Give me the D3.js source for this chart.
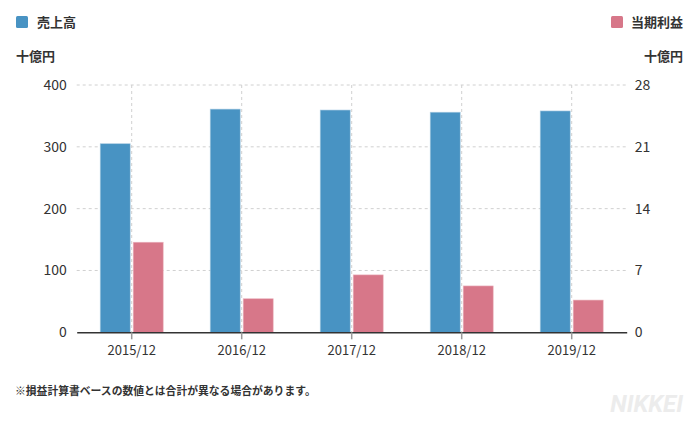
<!DOCTYPE html>
<html><head><meta charset="utf-8">
<script src="https://cdn.jsdelivr.net/npm/d3@7"></script>
<style>
body{margin:0;background:#fff;}
text{font-family:"Noto Sans CJK JP","Noto Sans",sans-serif;}
</style></head>
<body><svg id="c" width="691" height="426"></svg>
<script>
const categories = ["2015/12","2016/12","2017/12","2018/12","2019/12"];
const sales = [305, 361, 359.5, 356, 358];
const profit = [10.2, 3.8, 6.5, 5.25, 3.65];
const leftTicks = [0,100,200,300,400];
const rightTicks = [0,7,14,21,28];
const seriesNames = ["売上高","当期利益"];
const unitLabel = "十億円";
const footnote = "※損益計算書ベースの数値とは合計が異なる場合があります。";

const blue = "#4893c3", pink = "#d77789";
const svg = d3.select("#c");
const m = {l:76.7, r:626.7, t:85, b:332.3};
const x = d3.scaleBand().domain(categories).range([m.l, m.r]);
const yL = d3.scaleLinear().domain([0,400]).range([m.b, m.t]);
const yR = d3.scaleLinear().domain([0,28]).range([m.b, m.t]);

// horizontal grid
svg.append("g").selectAll("line").data(leftTicks.filter(d=>d>0)).join("line")
  .attr("x1", m.l).attr("x2", m.r).attr("y1", d=>yL(d)).attr("y2", d=>yL(d))
  .attr("stroke","#d0d0d0").attr("stroke-dasharray","3,3");
// vertical grid
svg.append("g").selectAll("line").data(categories).join("line")
  .attr("x1", d=>x(d)+x.bandwidth()/2).attr("x2", d=>x(d)+x.bandwidth()/2)
  .attr("y1", m.t).attr("y2", m.b)
  .attr("stroke","#d0d0d0").attr("stroke-dasharray","3,3");

const bw = 30, gap = 1.5;
svg.append("g").selectAll("rect").data(categories).join("rect")
  .attr("x", d=>x(d)+x.bandwidth()/2-gap-bw).attr("width", bw)
  .attr("y", (d,i)=>yL(sales[i])).attr("height", (d,i)=>yL(0)-yL(sales[i]))
  .attr("fill", blue).attr("stroke","#a9cbe2").attr("stroke-width",0.6);
svg.append("g").selectAll("rect").data(categories).join("rect")
  .attr("x", d=>x(d)+x.bandwidth()/2+gap).attr("width", bw)
  .attr("y", (d,i)=>yR(profit[i])).attr("height", (d,i)=>yR(0)-yR(profit[i]))
  .attr("fill", pink).attr("stroke","#ebb6c0").attr("stroke-width",0.6);

// x axis
const xa = svg.append("g").attr("transform",`translate(0,${m.b})`)
  .call(d3.axisBottom(x).tickSize(7).tickSizeOuter(0).tickPadding(6));
xa.select(".domain").attr("stroke","#333").attr("stroke-width",1.5);
xa.selectAll(".tick line").attr("stroke","#999").attr("stroke-width",1.5);
xa.selectAll("text").attr("font-size",13).attr("fill","#333");

// left axis
const la = svg.append("g").attr("transform",`translate(${m.l},0)`)
  .call(d3.axisLeft(yL).tickValues(leftTicks).tickSize(0).tickPadding(10));
la.select(".domain").remove();
la.selectAll("text").attr("font-size",14).attr("fill","#333");
const ra = svg.append("g").attr("transform",`translate(${m.r},0)`)
  .call(d3.axisRight(yR).tickValues(rightTicks).tickSize(0).tickPadding(8));
ra.select(".domain").remove();
ra.selectAll("text").attr("font-size",14).attr("fill","#333");

// legend
svg.append("rect").attr("x",16).attr("y",16).attr("width",12).attr("height",12).attr("rx",1.5).attr("fill",blue);
svg.append("text").attr("x",37).attr("y",27).attr("font-size",13).attr("font-weight","bold").attr("fill","#333").text(seriesNames[0]);
svg.append("text").attr("x",683).attr("y",27).attr("text-anchor","end").attr("font-size",13).attr("font-weight","bold").attr("fill","#333").text(seriesNames[1]);
svg.append("rect").attr("x",611).attr("y",16).attr("width",12).attr("height",12).attr("rx",1.5).attr("fill",pink);

svg.append("text").attr("x",16).attr("y",61).attr("font-size",13).attr("font-weight","bold").attr("fill","#333").text(unitLabel);
svg.append("text").attr("x",683).attr("y",61).attr("text-anchor","end").attr("font-size",13).attr("font-weight","bold").attr("fill","#333").text(unitLabel);

svg.append("text").attr("x",15).attr("y",395).attr("font-size",10.8).attr("font-weight","bold").attr("fill","#333").text(footnote);
svg.append("text").attr("x",683).attr("y",412).attr("text-anchor","end").attr("font-size",24)
  .attr("font-weight","bold").attr("font-style","italic").attr("fill","#ececec")
  .style("font-family","Roboto, 'Liberation Sans', sans-serif").text("NIKKEI");
</script></body></html>
